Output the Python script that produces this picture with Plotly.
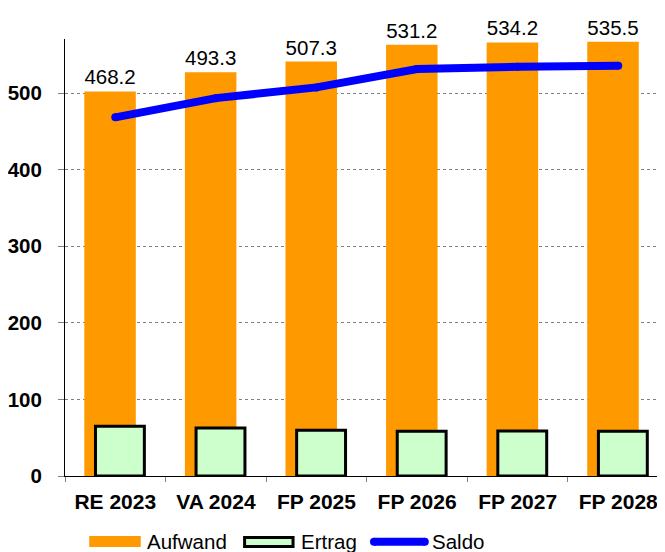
import plotly.graph_objects as go

# ---- data ----
categories = ["RE 2023", "VA 2024", "FP 2025", "FP 2026", "FP 2027", "FP 2028"]
aufwand = [502, 527, 541, 563, 566, 567]
ertrag = [65.0, 62.8, 59.8, 58.5, 58.9, 58.5]
saldo = [468.2, 493.3, 507.3, 531.2, 534.2, 535.5]
y_ticks = [0, 100, 200, 300, 400, 500]
legend_labels = ["Aufwand", "Ertrag", "Saldo"]

ORANGE = "#FF9900"
GREEN = "#CCFFCC"
BLUE = "#0000FF"
FONT = "Liberation Sans, Arial, sans-serif"

# the page body has an 8px margin, so the figure starts at (8, 8) in the window
OFF = 8
W, H = 665 - OFF, 552 - OFF
ML, MR, MT, MB = 63 - OFF, 0, 39 - OFF, 552 - 476
PW = W - ML - MR
PH = H - MT - MB


def px_x(p):  # window pixel -> paper
    return (p - OFF - ML) / PW


def px_y(p):
    return (H - MB - (p - OFF)) / PH


fig = go.Figure()

fig.add_trace(go.Bar(
    x=categories, y=aufwand, name=legend_labels[0],
    marker=dict(color=ORANGE, line=dict(width=0)),
    width=0.512, offset=-0.308,
    text=[f"{v:.1f}" for v in saldo], textposition="outside",
    textfont=dict(family=FONT, size=20.5, color="black"),
    cliponaxis=False,
))
fig.add_trace(go.Bar(
    x=categories, y=ertrag, name=legend_labels[1],
    marker=dict(color=GREEN, line=dict(color="black", width=3)),
    width=0.486, offset=-0.197,
))
fig.add_trace(go.Scatter(
    x=categories, y=saldo, name=legend_labels[2], mode="lines+markers",
    line=dict(color=BLUE, width=8),
    marker=dict(color=BLUE, size=8, line=dict(width=0)),
    cliponaxis=False,
))

# ---- custom legend (decoration) ----
shapes = []
ann = []
UP = 3
ly = 544.7 - UP
shapes.append(dict(type="rect", xref="paper", yref="paper",
                   x0=px_x(87.3), x1=px_x(139), y0=px_y(550 - UP), y1=px_y(539 - UP),
                   fillcolor=ORANGE, line=dict(width=0), layer="above"))
shapes.append(dict(type="rect", xref="paper", yref="paper",
                   x0=px_x(243.2), x1=px_x(291.8), y0=px_y(549.5 - UP), y1=px_y(540.5 - UP),
                   fillcolor=GREEN, line=dict(color="black", width=3), layer="above"))
shapes.append(dict(type="line", xref="paper", yref="paper",
                   x0=px_x(373), x1=px_x(424), y0=px_y(ly), y1=px_y(ly),
                   line=dict(color=BLUE, width=8), layer="above"))
for cx in (373, 424):
    shapes.append(dict(type="circle", xref="paper", yref="paper",
                       x0=px_x(cx - 4), x1=px_x(cx + 4), y0=px_y(ly + 4), y1=px_y(ly - 4),
                       fillcolor=BLUE, line=dict(width=0), layer="above"))

for label, xpos in zip(legend_labels, (143, 298, 429)):
    ann.append(dict(text=label, xref="paper", yref="paper", x=px_x(xpos), y=px_y(544 - UP),
                    xanchor="left", yanchor="middle", showarrow=False,
                    font=dict(family=FONT, size=20.5, color="black")))

fig.update_layout(
    width=W, height=H, autosize=False,
    margin=dict(l=ML, r=MR, t=MT, b=MB, pad=0),
    paper_bgcolor="white", plot_bgcolor="white",
    barmode="overlay", showlegend=False,
    font=dict(family=FONT, size=20, color="black"),
    shapes=shapes, annotations=ann,
    xaxis=dict(
        type="category", range=[-0.5, 5.465],
        showline=True, linecolor="black", linewidth=1,
        ticks="outside", tickson="boundaries", ticklen=5, tickcolor="#808080",
        showgrid=False, zeroline=False,
        tickfont=dict(family=FONT, size=21, color="black", weight="bold"),
        ticklabelstandoff=7,
    ),
    yaxis=dict(
        range=[0, 570.5], tickvals=y_ticks,
        showline=True, linecolor="black", linewidth=1,
        ticks="outside", ticklen=6, tickcolor="#808080",
        showgrid=True, gridcolor="#808080", gridwidth=1, griddash="dot",
        zeroline=False,
        tickfont=dict(family=FONT, size=20.5, color="black", weight="bold"),
        ticklabelstandoff=12,
    ),
)

fig.write_html("out.html")
